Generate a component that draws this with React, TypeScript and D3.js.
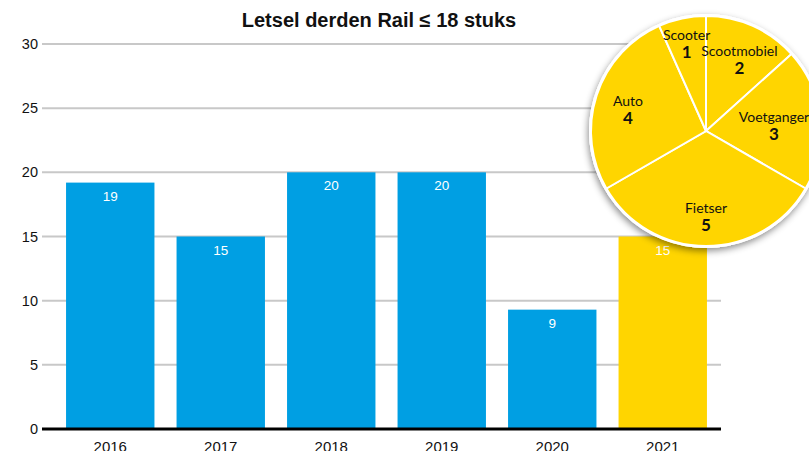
import React from "react";
import * as d3 from "d3";

const years = ["2016", "2017", "2018", "2019", "2020", "2021"];
const values = [19.2, 15, 20, 20, 9.3, 15];
const barLabels = ["19", "15", "20", "20", "9", "15"];
const highlightYear = "2021";
const yTicks = [0, 5, 10, 15, 20, 25, 30];

const pieNames = ["Scootmobiel", "Voetganger", "Fietser", "Auto", "Scooter"];
const pieValues = [2, 3, 5, 4, 1];

const title = "Letsel derden Rail \u2264 18 stuks";

const W = 809;
const H = 451;
const BLUE = "#009FE3";
const YELLOW = "#FFD500";

type Slice = { name: string; value: number };

export default function App() {
  const x = d3.scaleBand<string>().domain(years).range([55, 718]).paddingInner(0.2).paddingOuter(0.1);
  const y = d3.scaleLinear().domain([0, 30]).range([429, 44]);
  const gridX0 = 42;
  const gridX1 = 721;

  const cx = 706;
  const cy = 131;
  const R = 115;
  const pieData: Slice[] = pieNames.map((n, i) => ({ name: n, value: pieValues[i] }));
  const pie = d3.pie<Slice>().sort(null).value((d) => d.value).startAngle(0).endAngle(2 * Math.PI);
  const arcs = pie(pieData);
  const arc = d3.arc<d3.PieArcDatum<Slice>>().innerRadius(0).outerRadius(R);

  const labelPos = (a: d3.PieArcDatum<Slice>) => {
    const span = a.endAngle - a.startAngle;
    const r = span < 0.5 ? 93 : 82;
    const ang = (a.startAngle + a.endAngle) / 2;
    let lx = r * Math.sin(ang);
    const ly = -r * Math.cos(ang);
    const halfW = a.data.name.length * 3.5;
    const maxX = W - cx - halfW;
    if (lx > maxX) lx = maxX;
    return [lx, ly];
  };

  return (
    <svg width={W} height={H} style={{ position: "absolute", left: 0, top: 0, display: "block" }} fontFamily="'Liberation Sans', Arial, sans-serif">
      <defs>
        <filter id="shadow" x="-30%" y="-30%" width="160%" height="160%">
          <feDropShadow dx="-1" dy="3" stdDeviation="3.5" floodColor="#000" floodOpacity="0.45" />
        </filter>
      </defs>
      <rect width={W} height={H} fill="#fff" />
      <text x={379} y={27} textAnchor="middle" fontSize={20} fontWeight="bold" fill="#111">{title}</text>
      {yTicks.map((t) => (
        <g key={t}>
          {t !== 0 && <line x1={gridX0} x2={gridX1} y1={y(t)} y2={y(t)} stroke="#c8c8c8" strokeWidth={2} />}
          <text x={38} y={y(t) + 5} textAnchor="end" fontSize={14.5} fill="#111">{t}</text>
        </g>
      ))}
      {years.map((yr, i) => (
        <g key={yr}>
          <rect x={x(yr)} y={y(values[i])} width={x.bandwidth()} height={y(0) - y(values[i])} fill={yr === highlightYear ? YELLOW : BLUE} />
          <text x={(x(yr) as number) + x.bandwidth() / 2} y={y(values[i]) + 18} textAnchor="middle" fontSize={13.5} fill="#fff">{barLabels[i]}</text>
          <text x={(x(yr) as number) + x.bandwidth() / 2} y={452} textAnchor="middle" fontSize={15} fill="#111">{yr}</text>
        </g>
      ))}
      <line x1={gridX0} x2={gridX1} y1={y(0)} y2={y(0)} stroke="#000" strokeWidth={3} />
      <g transform={`translate(${cx},${cy})`}>
        <circle r={R + 1} fill={YELLOW} stroke="#fff" strokeWidth={2} filter="url(#shadow)" />
        {arcs.map((a) => (
          <path key={a.data.name} d={arc(a) as string} fill={YELLOW} stroke="#fff" strokeWidth={2} />
        ))}
        <circle r={R + 1} fill="none" stroke="#fff" strokeWidth={2} />
        {arcs.map((a) => {
          const [lx, ly] = labelPos(a);
          return (
            <g key={a.data.name} fontFamily="Lato, 'Open Sans', sans-serif" fill="#111">
              <text x={lx} y={ly} textAnchor="middle" fontSize={14}>{a.data.name}</text>
              <text x={lx} y={ly + 18} textAnchor="middle" fontSize={17} fontWeight="bold">{a.data.value}</text>
            </g>
          );
        })}
      </g>
    </svg>
  );
}
